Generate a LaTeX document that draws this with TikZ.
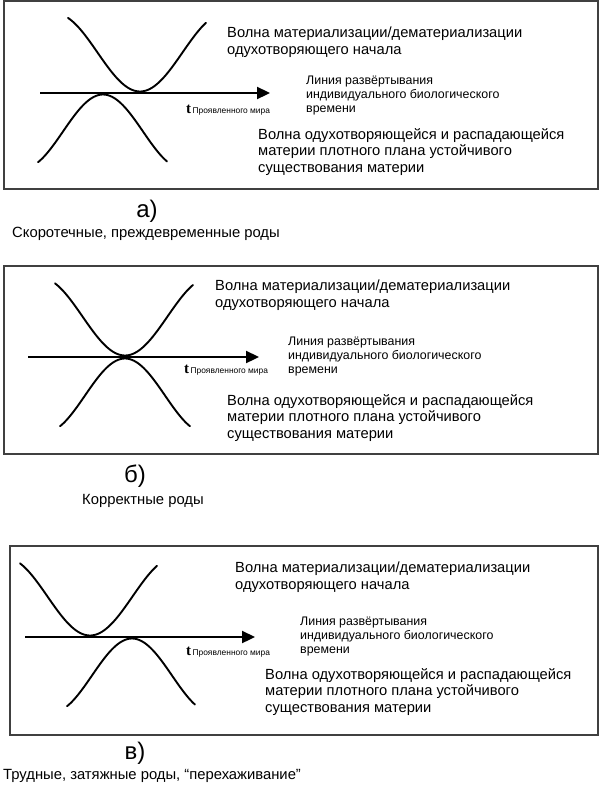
\documentclass[tikz,border=0pt]{standalone}
\usepackage{fontspec}
\setmainfont{Liberation Sans}
\newfontfamily\tfont{Liberation Serif}
\usetikzlibrary{arrows.meta}
\newcommand\wavecurve[6]{\draw[wave] plot[domain=#1:#2, samples=80] (\x, {#4 + #5*(1-cos(180*(\x-#3)/#6))/2});}
\begin{document}
\begin{tikzpicture}[x=1pt,y=-1pt,
 frame/.style={draw=black!75, line width=1.4pt},
 wave/.style={line width=1.9pt, line cap=round},
 axis/.style={line width=2.3pt, -{Triangle[length=13pt,width=12pt]}},
 big/.style={anchor=base west, inner sep=0pt, align=left, font=\fontsize{14.7}{16.5}\selectfont},
 mid/.style={anchor=base west, inner sep=0pt, align=left, font=\fontsize{12.4}{14}\selectfont},
 tlab/.style={anchor=base west, inner sep=0pt, font=\fontsize{8.4}{9}\selectfont},
 letter/.style={anchor=base, inner sep=0pt, font=\fontsize{24}{26}\selectfont},
 caption/.style={anchor=base west, inner sep=0pt, font=\fontsize{14.8}{16}\selectfont}]
\useasboundingbox (0,0) rectangle (600,790);
% ---------- panel a
\draw[frame] (4,1) rectangle (598,189);
\wavecurve{68}{206}{140}{91.5}{-78}{85}
\wavecurve{38}{167}{103}{94.5}{74}{80}
\coordinate (aS) at (40,93);
\coordinate (aE) at (270,93);
\draw[axis] (aS) -- (aE);
\node[tlab] (at) at (186,113) {{\tfont\bfseries\fontsize{15}{15}\selectfont t}\,Проявленного мира};
\node[big] (a1) at (227,54) {Волна материализации/дематериализации\\одухотворяющего начала};
\node[mid] (a2) at (306,112) {Линия развёртывания\\индивидуального биологического\\времени};
\node[big] (a3) at (258,172) {Волна одухотворяющейся и распадающейся\\материи плотного плана устойчивого\\существования материи};
\node[letter] (al) at (147,217) {а)};
\node[caption] (ac) at (12,237) {Скоротечные, преждевременные роды};
% ---------- panel b
\draw[frame] (4,266) rectangle (598,454);
\wavecurve{55}{193}{125}{355.5}{-78}{85}
\wavecurve{60}{190}{125}{358.5}{74}{80}
\coordinate (bS) at (28,357);
\coordinate (bE) at (259,357);
\draw[axis] (bS) -- (bE);
\node[tlab] (bt) at (184,373) {{\tfont\bfseries\fontsize{15}{15}\selectfont t}\,Проявленного мира};
\node[big] (b1) at (215,307) {Волна материализации/дематериализации\\одухотворяющего начала};
\node[mid] (b2) at (288,373) {Линия развёртывания\\индивидуального биологического\\времени};
\node[big] (b3) at (227,438) {Волна одухотворяющейся и распадающейся\\материи плотного плана устойчивого\\существования материи};
\node[letter] (bl) at (135,482) {б)};
\node[caption] (bc) at (82,504) {Корректные роды};
% ---------- panel c
\draw[frame] (10,546) rectangle (598,735);
\wavecurve{20}{157}{90}{635.5}{-78}{85}
\wavecurve{67}{195}{132}{638.5}{74}{80}
\coordinate (cS) at (25,637);
\coordinate (cE) at (255,637);
\draw[axis] (cS) -- (cE);
\node[tlab] (ct) at (186,655) {{\tfont\bfseries\fontsize{15}{15}\selectfont t}\,Проявленного мира};
\node[big] (c1) at (235,589) {Волна материализации/дематериализации\\одухотворяющего начала};
\node[mid] (c2) at (300,653) {Линия развёртывания\\индивидуального биологического\\времени};
\node[big] (c3) at (265,712) {Волна одухотворяющейся и распадающейся\\материи плотного плана устойчивого\\существования материи};
\node[letter] (cl) at (135,759) {в)};
\node[caption] (cc) at (3,779) {Трудные, затяжные роды, “перехаживание”};
\end{tikzpicture}
\end{document}
